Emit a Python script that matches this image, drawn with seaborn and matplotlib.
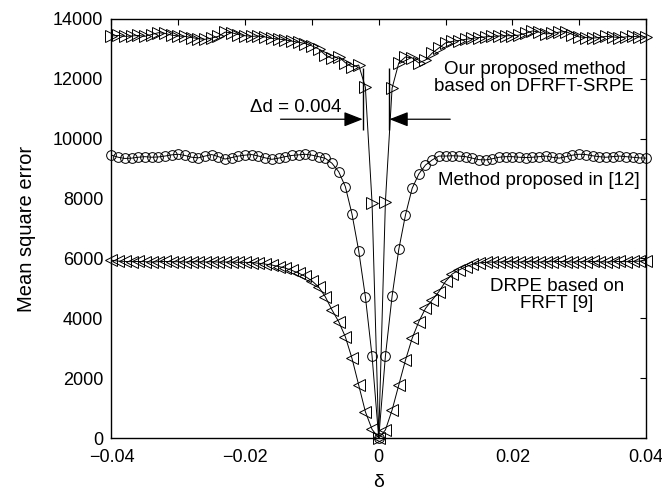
import numpy as np
import pandas as pd
import matplotlib
matplotlib.use("Agg")
import matplotlib.pyplot as plt
import seaborn as sns

# ---------------- data ----------------
delta = [-0.040, -0.039, -0.038, -0.037, -0.036, -0.035, -0.034, -0.033, -0.032, -0.031,
         -0.030, -0.029, -0.028, -0.027, -0.026, -0.025, -0.024, -0.023, -0.022, -0.021,
         -0.020, -0.019, -0.018, -0.017, -0.016, -0.015, -0.014, -0.013, -0.012, -0.011,
         -0.010, -0.009, -0.008, -0.007, -0.006, -0.005, -0.004, -0.003, -0.002, -0.001,
         0.000,
         0.001, 0.002, 0.003, 0.004, 0.005, 0.006, 0.007, 0.008, 0.009, 0.010,
         0.011, 0.012, 0.013, 0.014, 0.015, 0.016, 0.017, 0.018, 0.019, 0.020,
         0.021, 0.022, 0.023, 0.024, 0.025, 0.026, 0.027, 0.028, 0.029, 0.030,
         0.031, 0.032, 0.033, 0.034, 0.035, 0.036, 0.037, 0.038, 0.039, 0.040]

mse_dfrft_srpe = [13430, 13450, 13420, 13430, 13450, 13420, 13480, 13540, 13520, 13460,
                  13430, 13420, 13380, 13340, 13320, 13360, 13420, 13560, 13540, 13480,
                  13440, 13420, 13430, 13400, 13350, 13330, 13300, 13260, 13220, 13180,
                  13100, 13000, 12800, 12680, 12740, 12540, 12400, 12460, 11720, 7860,
                  0,
                  7900, 11690, 12530, 12730, 12700, 12530, 12630, 12860, 13030, 13200,
                  13250, 13280, 13320, 13350, 13380, 13400, 13420, 13430, 13440, 13440,
                  13460, 13520, 13600, 13560, 13500, 13520, 13560, 13580, 13480, 13400,
                  13380, 13360, 13380, 13420, 13400, 13380, 13400, 13420, 13400, 13400]

mse_ref12 = [9450, 9380, 9340, 9350, 9380, 9400, 9380, 9390, 9420, 9460,
             9480, 9440, 9380, 9360, 9420, 9470, 9400, 9320, 9370, 9420,
             9450, 9470, 9420, 9360, 9310, 9350, 9400, 9440, 9460, 9480,
             9450, 9400, 9345, 9180, 8900, 8400, 7480, 6260, 4720, 2740,
             0,
             2740, 4740, 6300, 7450, 8340, 8820, 9120, 9290, 9420, 9420,
             9430, 9420, 9400, 9350, 9300, 9290, 9330, 9380, 9400, 9400,
             9380, 9370, 9380, 9400, 9420, 9380, 9350, 9400, 9450, 9480,
             9470, 9430, 9400, 9380, 9400, 9420, 9400, 9380, 9360, 9350]

mse_drpe_frft = [5940, 5910, 5900, 5890, 5900, 5890, 5880, 5890, 5900, 5890,
                 5890, 5880, 5890, 5890, 5880, 5890, 5880, 5880, 5880, 5870,
                 5870, 5860, 5840, 5810, 5780, 5730, 5680, 5600, 5510, 5400,
                 5250, 5050, 4720, 4280, 3890, 3385, 2660, 1770, 880, 290,
                 0,
                 270, 935, 1770, 2600, 3330, 3890, 4330, 4610, 4890, 5230,
                 5480, 5610, 5720, 5800, 5850, 5870, 5880, 5880, 5890, 5890,
                 5880, 5890, 5890, 5880, 5890, 5890, 5900, 5890, 5880, 5890,
                 5890, 5900, 5890, 5880, 5890, 5900, 5890, 5900, 5910, 5930]

x_ticks = [-0.04, -0.03, -0.02, -0.01, 0.0, 0.01, 0.02, 0.03, 0.04]
x_ticklabels = ["\u22120.04", "", "\u22120.02", "", "0", "", "0.02", "", "0.04"]
y_ticks = [0, 2000, 4000, 6000, 8000, 10000, 12000, 14000]
y_ticklabels = ["0", "2000", "4000", "6000", "8000", "10000", "12000", "14000"]

label_ours = "Our proposed method\nbased on DFRFT-SRPE"
label_ref12 = "Method proposed in [12]"
label_drpe = "DRPE based on\nFRFT [9]"
label_dd = "\u0394d = 0.004"

# annotation geometry (data coordinates)
dd_left, dd_right = -0.0024, 0.0016
dd_bar_lo, dd_bar_hi = 10290, 12360
dd_arrow_y = 10650
dd_tail_left, dd_tail_right = -0.0147, 0.0107

# ---------------- plot ----------------
sns.set_theme(style="white")
plt.rcParams["font.family"] = ["Liberation Sans", "DejaVu Sans"]
plt.rcParams["axes.unicode_minus"] = True
plt.rcParams["text.color"] = "black"
plt.rcParams["axes.labelcolor"] = "black"
plt.rcParams["xtick.color"] = "black"
plt.rcParams["ytick.color"] = "black"

fig = plt.figure(figsize=(6.62, 4.99), dpi=100)
ax = fig.add_axes([0.1684, 0.1222, 0.8074, 0.8398])

df = pd.DataFrame({"delta": delta, "ours": mse_dfrft_srpe,
                   "ref12": mse_ref12, "drpe": mse_drpe_frft})

common = dict(color="black", linewidth=0.7, markerfacecolor="none",
              markeredgecolor="black", markeredgewidth=0.7, clip_on=False,
              errorbar=None, ax=ax, legend=False)
sns.lineplot(data=df, x="delta", y="drpe", marker="<", markersize=8.5, **common)
sns.lineplot(data=df, x="delta", y="ref12", marker="o", markersize=7.0, **common)
sns.lineplot(data=df, x="delta", y="ours", marker=">", markersize=8.5, **common)

ax.set_xlim(-0.04, 0.04)
ax.set_ylim(0, 14000)
ax.set_xticks(x_ticks)
ax.set_xticklabels(x_ticklabels)
ax.set_yticks(y_ticks)
ax.set_yticklabels(y_ticklabels)
ax.tick_params(direction="in", length=4, width=0.8, top=True, right=True,
               labelsize=13, colors="black")
ax.tick_params(axis="x", pad=8)
ax.tick_params(axis="y", pad=6)
for sp in ax.spines.values():
    sp.set_color("black")
    sp.set_linewidth(1.0)
    sp.set_visible(True)

ax.set_xlabel("\u03b4", fontsize=14, labelpad=6, color="black")
ax.set_ylabel("Mean square error", fontsize=14.5, labelpad=12, color="black")

# text annotations
ax.text(0.0233, 12030, label_ours, ha="center", va="center", fontsize=13.5,
        linespacing=1.05, color="black")
ax.text(0.0240, 8590, label_ref12, ha="center", va="center", fontsize=13.5,
        color="black")
ax.text(0.0267, 4780, label_drpe, ha="center", va="center", fontsize=13.5,
        linespacing=1.05, color="black")
ax.text(-0.0125, 11030, label_dd, ha="center", va="center", fontsize=13.5,
        color="black")

# delta-d markers
ax.vlines([dd_left, dd_right], dd_bar_lo, dd_bar_hi, color="black", linewidth=1.0)
arrow = dict(arrowstyle="-|>,head_length=1.15,head_width=0.45", color="black",
             lw=0.9, shrinkA=0, shrinkB=0, mutation_scale=10)
ax.annotate("", xy=(dd_left, dd_arrow_y), xytext=(dd_tail_left, dd_arrow_y),
            arrowprops=arrow)
ax.annotate("", xy=(dd_right, dd_arrow_y), xytext=(dd_tail_right, dd_arrow_y),
            arrowprops=arrow)

fig.savefig("out.png", dpi=100)
